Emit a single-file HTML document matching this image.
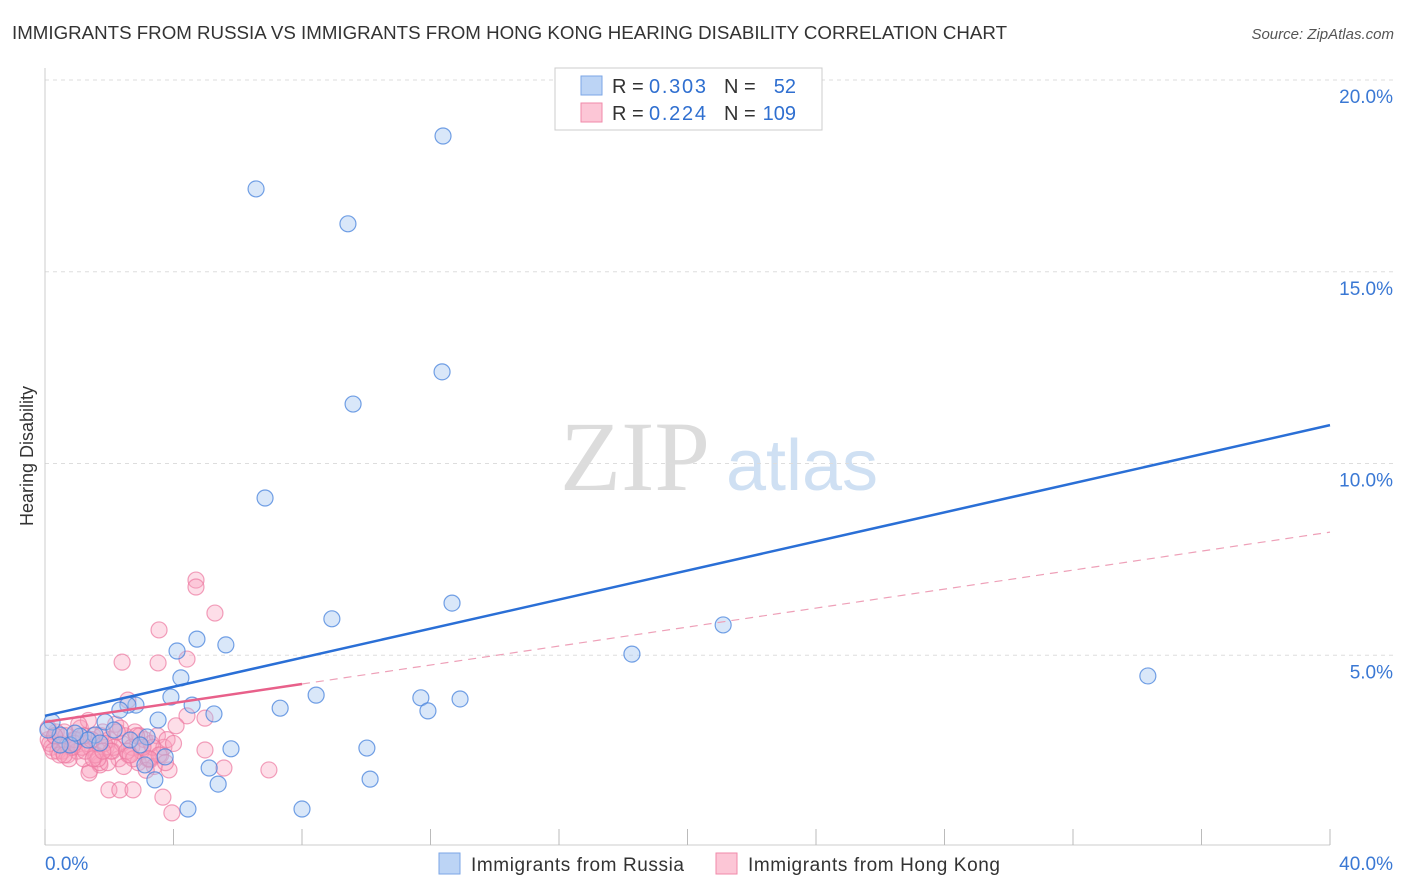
<!DOCTYPE html>
<html><head><meta charset="utf-8"><style>
body{margin:0;background:#fff;font-family:"Liberation Sans",sans-serif;}
#wrap{position:relative;width:1406px;height:892px;overflow:hidden;}
</style></head><body>
<div id="wrap">
<svg id="svg" width="1406" height="892" xmlns="http://www.w3.org/2000/svg">
<text x="12" y="39" font-size="18" fill="#333" textLength="995" lengthAdjust="spacingAndGlyphs">IMMIGRANTS FROM RUSSIA VS IMMIGRANTS FROM HONG KONG HEARING DISABILITY CORRELATION CHART</text>
<text x="1394" y="39" font-size="15" fill="#555" font-style="italic" text-anchor="end">Source: ZipAtlas.com</text>
<text x="33" y="456" font-size="18" fill="#333" text-anchor="middle" transform="rotate(-90 33 456)">Hearing Disability</text>
<g><text x="635" y="490" font-size="100" font-family="Liberation Serif,serif" fill="#dcdcdc" text-anchor="middle">ZIP</text><text x="802" y="490" font-size="72" fill="#cfe0f3" text-anchor="middle">atlas</text></g>
<g id="grid"></g><g id="axes"></g><g id="pts"></g><g id="lines"></g>
<g>
<rect x="555" y="68" width="267" height="62" fill="#fff" stroke="#ccc"/>
<rect x="581" y="76" width="21" height="19" fill="#bcd4f5" stroke="#7ba6e6"/>
<rect x="581" y="103" width="21" height="19" fill="#fcc6d6" stroke="#f08aaa"/>
<text x="612" y="93" font-size="20" fill="#333">R = </text><text x="649" y="93" font-size="20" fill="#2f6fd0" textLength="57">0.303</text>
<text x="724" y="93" font-size="20" fill="#333">N = </text><text x="796" y="93" font-size="20" fill="#2f6fd0" text-anchor="end">52</text>
<text x="612" y="120" font-size="20" fill="#333">R = </text><text x="649" y="120" font-size="20" fill="#2f6fd0" textLength="57">0.224</text>
<text x="724" y="120" font-size="20" fill="#333">N = </text><text x="796" y="120" font-size="20" fill="#2f6fd0" text-anchor="end">109</text>
</g>
<g>
<rect x="439" y="853" width="21" height="21" fill="#bcd4f5" stroke="#7ba6e6"/>
<text x="471" y="871" font-size="19" fill="#333" textLength="213">Immigrants from Russia</text>
<rect x="716" y="853" width="21" height="21" fill="#fcc6d6" stroke="#f08aaa"/>
<text x="748" y="871" font-size="19" fill="#333" textLength="252">Immigrants from Hong Kong</text>
</g>
</svg></div>
<script>
const xTicks=[0,40];
const yTicks=[5,10,15,20];
const russiaX=[12.39,6.57,9.43,12.36,9.59,6.85,12.67,8.93,21.11,18.27,34.33,4.73,5.63,4.11,4.23,3.92,4.58,5.26,7.32,8.44,11.70,12.92,11.92,10.02,5.79,10.12,3.42,5.11,5.39,4.45,8.00,3.52,2.83,2.58,2.33,1.87,2.15,3.18,3.74,3.11,1.56,1.09,0.47,0.22,0.09,0.78,1.34,1.71,2.65,2.96,0.47,0.93];
const russiaY=[18.54,17.16,16.25,12.39,11.55,9.10,6.36,5.95,5.79,5.03,4.46,5.42,5.27,5.11,4.41,3.91,3.70,3.47,3.62,3.96,3.89,3.86,3.55,2.58,2.56,1.77,1.75,2.06,1.64,0.99,0.99,3.31,3.70,3.70,3.57,3.26,3.05,2.87,2.35,2.14,2.92,2.89,2.92,3.26,3.05,2.66,2.79,2.71,2.79,2.66,2.66,2.97];
const hkX=[4.70,4.70,5.29,3.55,4.42,2.40,3.52,6.97,3.95,3.67,1.99,2.33,2.74,5.57,4.98,4.98,4.42,4.08,3.86,3.27,2.58,1.40,1.71,1.37,
0.1,0.2,0.3,0.4,0.5,0.6,0.7,0.8,0.9,1.0,1.1,1.2,1.3,1.4,1.5,1.6,1.7,1.8,1.9,2.0,2.1,2.2,2.3,2.4,2.5,2.6,2.7,2.8,2.9,3.0,3.1,3.2,3.3,3.4,3.5,3.6,3.7,3.8,
0.15,0.35,0.55,0.75,0.95,1.15,1.35,1.55,1.75,1.95,2.15,2.35,2.55,2.75,2.95,3.15,3.35,3.55,3.75,4.0,
0.25,0.45,0.65,0.85,1.05,1.25,1.45,1.65,1.85,2.05,2.25,2.45,2.65,2.85,3.05,3.25,0.1,0.3,0.6,0.9,1.2,1.5,1.8];
const hkY=[6.96,6.78,6.10,5.66,4.90,4.82,4.80,2.01,0.89,1.30,1.49,1.49,1.49,2.06,2.53,3.36,3.42,3.16,2.01,2.27,3.83,2.01,2.14,1.93,
2.8,2.6,2.9,2.5,2.7,3.0,2.4,2.6,2.8,2.5,3.1,2.3,2.7,2.6,2.9,2.4,2.2,3.0,2.6,2.8,2.5,3.2,2.3,2.7,2.9,2.4,2.6,3.0,2.2,2.5,2.8,2.3,2.7,2.1,2.9,2.4,2.6,2.8,
2.7,3.0,2.5,2.3,2.8,2.6,3.3,2.4,2.9,2.2,2.6,3.1,2.5,2.3,2.9,2.0,2.6,2.4,2.2,2.7,
2.5,2.4,2.9,2.6,3.2,2.5,2.8,2.3,2.7,2.5,3.0,2.1,2.4,2.9,2.6,2.3,3.1,2.9,2.4,2.7,2.9,2.3,2.5];
const russiaLine=[3.42,11.0];
const hkLine=[3.26,8.21];
const hkSolidEnd=8;
const NS="http://www.w3.org/2000/svg";
const X0=45,X1=1330,Y0=847,YPX=38.35;
function sx(v){return X0+(X1-X0)*(v-0)/40;}
function sy(v){return Y0-v*YPX;}
function mk(tag,attrs,parent){const e=document.createElementNS(NS,tag);for(const k in attrs)e.setAttribute(k,attrs[k]);parent.appendChild(e);return e;}
const grid=document.getElementById('grid'),axes=document.getElementById('axes'),pts=document.getElementById('pts'),lines=document.getElementById('lines');
mk('line',{x1:45,y1:68,x2:45,y2:845,stroke:'#ccc'},axes);
mk('line',{x1:45,y1:845,x2:1330,y2:845,stroke:'#ccc'},axes);
for(let i=0;i<=10;i++){const x=sx(i*4);const t=mk('line',{x1:x,y1:829,x2:x,y2:845,stroke:'#bbb'},axes);

}
yTicks.forEach(v=>{const y=sy(v);const g=mk('line',{x1:45,y1:y,x2:1394,y2:y,stroke:'#ddd','stroke-dasharray':'4,4'},grid);


const t=mk('text',{x:1393,y:y+23,'font-size':19,fill:'#3a78d4','text-anchor':'end'},axes);t.textContent=v.toFixed(1)+'%';

});
xTicks.forEach((v,i)=>{const t=mk('text',{x:i==0?45:1393,y:870,'font-size':19,fill:'#3a78d4','text-anchor':i==0?'start':'end'},axes);t.textContent=v.toFixed(1)+'%';

});
hkX.forEach((v,i)=>{const c=mk('circle',{cx:sx(v),cy:sy(hkY[i]),r:8,fill:'rgba(248,160,190,0.35)',stroke:'rgba(236,120,160,0.7)','stroke-width':1.2},pts);

});
russiaX.forEach((v,i)=>{const c=mk('circle',{cx:sx(v),cy:sy(russiaY[i]),r:8,fill:'rgba(160,195,240,0.4)',stroke:'rgba(70,130,220,0.75)','stroke-width':1.2},pts);

});
const l1=mk('line',{x1:sx(0),y1:sy(russiaLine[0]),x2:sx(40),y2:sy(russiaLine[1]),stroke:'#2a6fd6','stroke-width':2.5},lines);


const hkAt=v=>hkLine[0]+(hkLine[1]-hkLine[0])*v/40;
const l2=mk('line',{x1:sx(0),y1:sy(hkAt(0)),x2:sx(hkSolidEnd),y2:sy(hkAt(hkSolidEnd)),stroke:'#e8608a','stroke-width':2.5},lines);


const l3=mk('line',{x1:sx(hkSolidEnd),y1:sy(hkAt(hkSolidEnd)),x2:sx(40),y2:sy(hkAt(40)),stroke:'#eea0b8','stroke-width':1.2,'stroke-dasharray':'8,6'},lines);


</script>
</body></html>
